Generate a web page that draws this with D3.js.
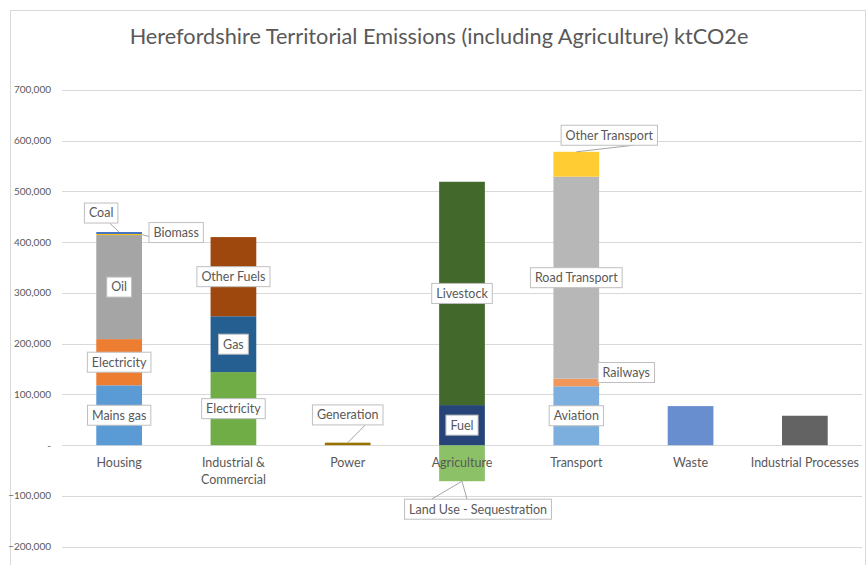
<!DOCTYPE html>
<html>
<head>
<meta charset="utf-8">
<script src="https://cdn.jsdelivr.net/npm/d3@7"></script>
<style>
  html, body { margin: 0; padding: 0; background: #fff; }
  svg { display: block; font-family: Lato, "Open Sans", sans-serif; }
</style>
</head>
<body>
<div id="chart"></div>
<script>
// categories along the x axis
const categories = ["Housing", "Industrial & Commercial", "Power", "Agriculture", "Transport", "Waste", "Industrial Processes"];

// stacked segments (bottom to top) for each category, values in tCO2e
const housingParts = ["Mains gas", "Electricity", "Oil", "Biomass", "Coal"];
const housingValues = [118000, 91000, 205000, 2000, 4000];
const housingColors = ["#5B9BD5", "#ED7D31", "#A5A5A5", "#FFC000", "#4472C4"];

const industrialParts = ["Electricity", "Gas", "Other Fuels"];
const industrialValues = [144000, 110000, 156000];
const industrialColors = ["#70AD47", "#255E91", "#9E480E"];

const powerParts = ["Generation"];
const powerValues = [5000];
const powerColors = ["#997300"];

const agricultureParts = ["Land Use - Sequestration", "Fuel", "Livestock"];
const agricultureValues = [-71000, 79000, 440000];
const agricultureColors = ["#8CC168", "#264478", "#43682B"];

const transportParts = ["Aviation", "Railways", "Road Transport", "Other Transport"];
const transportValues = [116000, 15000, 398000, 49000];
const transportColors = ["#7CAFDD", "#F1975A", "#B7B7B7", "#FFCD33"];

const wasteParts = ["Waste"];
const wasteValues = [77000];
const wasteColors = ["#698ED0"];

const processParts = ["Industrial Processes"];
const processValues = [58000];
const processColors = ["#636363"];

const yTicks = [-200000, -100000, 0, 100000, 200000, 300000, 400000, 500000, 600000, 700000];

// which segments get a data label (Waste / Industrial Processes have none)
const labelledCategories = ["Housing", "Industrial & Commercial", "Power", "Agriculture", "Transport"];

// label nudges [dx, dy] in px for labels moved off their segment, with leader lines
const labelNudge = {
  "Housing|Coal": [-18, -20],
  "Housing|Biomass": [57, -2],
  "Power|Generation": [0, -29],
  "Agriculture|Land Use - Sequestration": [16, 46],
  "Transport|Other Transport": [33, -29],
  "Transport|Railways": [50, -10]
};

const groups = [
  [housingParts, housingValues, housingColors],
  [industrialParts, industrialValues, industrialColors],
  [powerParts, powerValues, powerColors],
  [agricultureParts, agricultureValues, agricultureColors],
  [transportParts, transportValues, transportColors],
  [wasteParts, wasteValues, wasteColors],
  [processParts, processValues, processColors]
];

// build a wide table for d3.stack: one key per category/part pair
const keys = [];
const keyInfo = {};
groups.forEach(([parts, values, colors], ci) => {
  parts.forEach((p, pi) => {
    const k = categories[ci] + "|" + p;
    keys.push(k);
    keyInfo[k] = { cat: categories[ci], part: p, color: colors[pi] };
  });
});
const table = categories.map((c, ci) => {
  const row = { category: c };
  keys.forEach(k => row[k] = 0);
  const [parts, values] = groups[ci];
  parts.forEach((p, pi) => row[c + "|" + p] = values[pi]);
  return row;
});

const series = d3.stack().keys(keys).offset(d3.stackOffsetDiverging)(table);

const width = 866, height = 565;
const textColor = "#595959";
const gridColor = "#D9D9D9";

const svg = d3.select("#chart").append("svg")
  .attr("width", width)
  .attr("height", height);

// chart border
svg.append("rect")
  .attr("x", 10.5).attr("y", 10.5)
  .attr("width", 855).attr("height", 570)
  .attr("fill", "#fff")
  .attr("stroke", gridColor);

svg.append("text")
  .attr("x", 439).attr("y", 44)
  .attr("text-anchor", "middle")
  .attr("fill", textColor)
  .style("font-size", "21.7px")
  .text("Herefordshire Territorial Emissions (including Agriculture) ktCO2e");

const x = d3.scaleBand()
  .domain(categories)
  .range([62, 862])
  .paddingInner(0.6)
  .paddingOuter(0.3);

const y = d3.scaleLinear()
  .domain([-200000, 700000])
  .range([546.7, 89.9]);

// gridlines
svg.append("g")
  .selectAll("line")
  .data(yTicks)
  .join("line")
  .attr("x1", 62).attr("x2", 862)
  .attr("y1", d => Math.round(y(d)) + 0.5)
  .attr("y2", d => Math.round(y(d)) + 0.5)
  .attr("stroke", gridColor);

// y axis labels
const fmt = d3.format(",");
svg.append("g")
  .selectAll("text")
  .data(yTicks)
  .join("text")
  .attr("x", 51)
  .attr("y", d => y(d))
  .attr("dy", "0.35em")
  .attr("text-anchor", "end")
  .attr("fill", textColor)
  .style("font-size", "10px")
  .text(d => d === 0 ? "-" : fmt(d));

// bars
svg.append("g")
  .selectAll("g")
  .data(series)
  .join("g")
  .attr("fill", s => keyInfo[s.key].color)
  .selectAll("rect")
  .data(s => s.filter(d => d[1] !== d[0]).map(d => ({ d, key: s.key })))
  .join("rect")
  .attr("x", e => x(e.d.data.category))
  .attr("width", x.bandwidth())
  .attr("y", e => y(Math.max(e.d[0], e.d[1])))
  .attr("height", e => Math.abs(y(e.d[0]) - y(e.d[1])));

// category labels with simple word wrap
const catG = svg.append("g");
categories.forEach(c => {
  const t = catG.append("text")
    .attr("x", x(c) + x.bandwidth() / 2)
    .attr("y", 467)
    .attr("text-anchor", "middle")
    .attr("fill", textColor)
    .style("font-size", "12.5px");
  const words = c.split(" ");
  let line = [];
  let tspan = t.append("tspan").attr("x", x(c) + x.bandwidth() / 2).attr("dy", 0);
  words.forEach(w => {
    line.push(w);
    tspan.text(line.join(" "));
    if (tspan.node().getComputedTextLength() > x.step() && line.length > 1) {
      line.pop();
      tspan.text(line.join(" "));
      line = [w];
      tspan = t.append("tspan").attr("x", x(c) + x.bandwidth() / 2).attr("dy", "1.35em").text(w);
    }
  });
});

// data labels
const labelG = svg.append("g");
series.forEach(s => {
  const info = keyInfo[s.key];
  if (!labelledCategories.includes(info.cat)) return;
  const d = s.find(r => r.data.category === info.cat);
  const bx0 = x(info.cat), bx1 = bx0 + x.bandwidth();
  const ax = bx0 + x.bandwidth() / 2;
  const ay = y((d[0] + d[1]) / 2);
  const nudge = labelNudge[s.key] || [0, 0];
  const cx = ax + nudge[0], cy = ay + nudge[1];

  const g = labelG.append("g");
  const rect = g.append("rect").attr("fill", "#fff").attr("stroke", "#BFBFBF");
  const txt = g.append("text")
    .attr("x", cx).attr("y", cy)
    .attr("dy", "0.35em")
    .attr("text-anchor", "middle")
    .attr("fill", textColor)
    .style("font-size", "12.5px")
    .text(info.part);
  const w = txt.node().getComputedTextLength() + 9;
  const h = 20;
  rect.attr("x", cx - w / 2).attr("y", cy - h / 2).attr("width", w).attr("height", h);

  if (labelNudge[s.key]) {
    // leader line from the box edge to the segment
    const top = Math.max(d[0], d[1]), bottom = Math.min(d[0], d[1]);
    let pts;
    if (Math.abs(nudge[0]) > w / 2 + x.bandwidth() / 2 - 4) {
      pts = [[nudge[0] > 0 ? cx - w / 2 : cx + w / 2, cy + 4],
             [nudge[0] > 0 ? bx1 : bx0, y((d[0] + d[1]) / 2)]];
    } else if (nudge[1] < 0) {
      pts = [[Math.min(Math.max(cx + w / 4, bx0), cx + w / 2), cy + h / 2],
             [Math.min(Math.max(ax, bx0), bx1), y(top)]];
    } else {
      // V-shaped leader as Excel draws it under the bar
      pts = [[cx - w / 2 + 27, cy - h / 2], [ax, y(bottom)], [ax + 5, cy - h / 2]];
    }
    g.insert("path", "rect")
      .attr("d", d3.line()(pts))
      .attr("fill", "none")
      .attr("stroke", "#A6A6A6");
  }
});
</script>
</body>
</html>
